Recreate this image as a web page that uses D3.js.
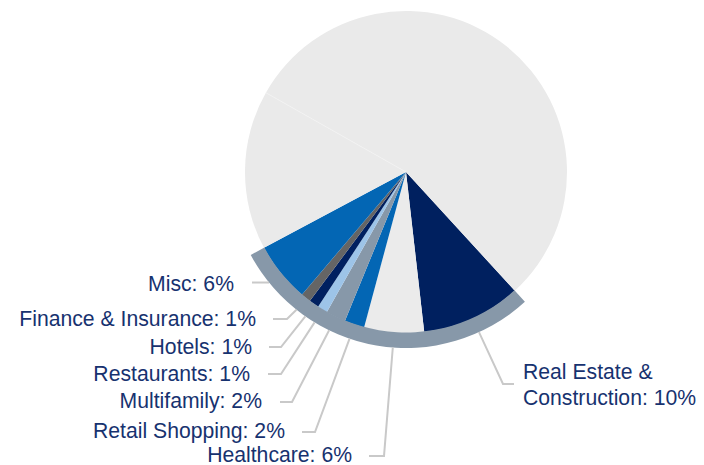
<!DOCTYPE html>
<html><head><meta charset="utf-8">
<script src="https://cdn.jsdelivr.net/npm/d3@7"></script>
<style>html,body{margin:0;padding:0;background:#fff;}svg{display:block;}</style>
</head><body>
<svg id="chart" width="704" height="465"></svg>
<script>
// Data
const categories = ["Real Estate & Construction", "Healthcare", "Retail Shopping", "Multifamily", "Restaurants", "Hotels", "Finance & Insurance", "Misc", "Other A", "Other B"];
const values = [10, 6, 2, 2, 1, 1, 1, 6, 16, 55];
const shown = [true, true, true, true, true, true, true, true, false, false];
const colors = ["#00205F", "#EBEBEB", "#0366B4", "#8798A9", "#9DC4E8", "#002060", "#656565", "#0366B4", "#EAEAEA", "#EAEAEA"];

// Layout for labels (positions only)
const labelLayout = {
  "Real Estate & Construction": {anchor: "start", x: 523, y: [379, 405], elbow: [503, 384], end: 514},
  "Healthcare": {anchor: "end", x: 352, y: [462], elbow: [384, 456], end: 369},
  "Retail Shopping": {anchor: "end", x: 285, y: [438], elbow: [315, 432], end: 302},
  "Multifamily": {anchor: "end", x: 262, y: [408], elbow: [292, 402], end: 280},
  "Restaurants": {anchor: "end", x: 250, y: [381], elbow: [281, 374], end: 268},
  "Hotels": {anchor: "end", x: 252, y: [354], elbow: [281, 347], end: 269},
  "Finance & Insurance": {anchor: "end", x: 256, y: [326], elbow: [287, 319], end: 273},
  "Misc": {anchor: "end", x: 234, y: [291], elbow: null, end: 252}
};

const cx = 406, cy = 172, R = 161, ringOuter = 176;
const deg = Math.PI / 180;
const start = 137.5 * deg;

const svg = d3.select("#chart");
const g = svg.append("g").attr("transform", `translate(${cx},${cy})`);

const data = categories.map((c, i) => ({name: c, value: values[i], color: colors[i], shown: shown[i]}));
const pie = d3.pie().sort(null).value(d => d.value).startAngle(start).endAngle(start + 2 * Math.PI);
const arcs = pie(data);
const arc = d3.arc().innerRadius(0).outerRadius(R);

g.selectAll("path.slice").data(arcs).enter().append("path")
  .attr("class", "slice")
  .attr("d", arc)
  .attr("fill", d => d.data.color);

// faint separator between the two unlabelled grey slices
const hidden = arcs.filter(a => !a.data.shown);
hidden.slice(1).forEach(a => {
  g.append("line").attr("x1", 0).attr("y1", 0)
    .attr("x2", R * Math.sin(a.startAngle)).attr("y2", -R * Math.cos(a.startAngle))
    .attr("stroke", "#F3F3F3").attr("stroke-width", 0.8);
});

// Outer ring around the shown slices
const shownArcs = arcs.filter(a => a.data.shown);
const ringArc = d3.arc().innerRadius(R - 0.5).outerRadius(ringOuter)
  .startAngle(d3.min(shownArcs, a => a.startAngle))
  .endAngle(d3.max(shownArcs, a => a.endAngle));
g.append("path").attr("d", ringArc()).attr("fill", "#8798A9");

// Leader lines and labels
const line = d3.line();
shownArcs.forEach(a => {
  const L = labelLayout[a.data.name];
  const mid = (a.startAngle + a.endAngle) / 2;
  const px = cx + ringOuter * Math.sin(mid), py = cy - ringOuter * Math.cos(mid);
  const ly = L.elbow ? L.elbow[1] : py;
  const pts = [[px, py]];
  if (L.elbow) pts.push(L.elbow);
  pts.push([L.end, ly]);
  svg.append("path").attr("d", line(pts)).attr("fill", "none")
    .attr("stroke", "#C9C9C9").attr("stroke-width", 2);
  const pct = a.data.value + "%";
  let lines;
  if (a.data.name === "Real Estate & Construction") lines = ["Real Estate &", "Construction: " + pct];
  else lines = [a.data.name + ": " + pct];
  lines.forEach((t, i) => {
    svg.append("text").attr("x", L.x).attr("y", L.y[i])
      .attr("text-anchor", L.anchor)
      .attr("font-family", "Liberation Sans, Arial, sans-serif")
      .attr("font-size", 21.2)
      .attr("fill", "#17326F")
      .text(t);
  });
});
</script>
</body></html>
